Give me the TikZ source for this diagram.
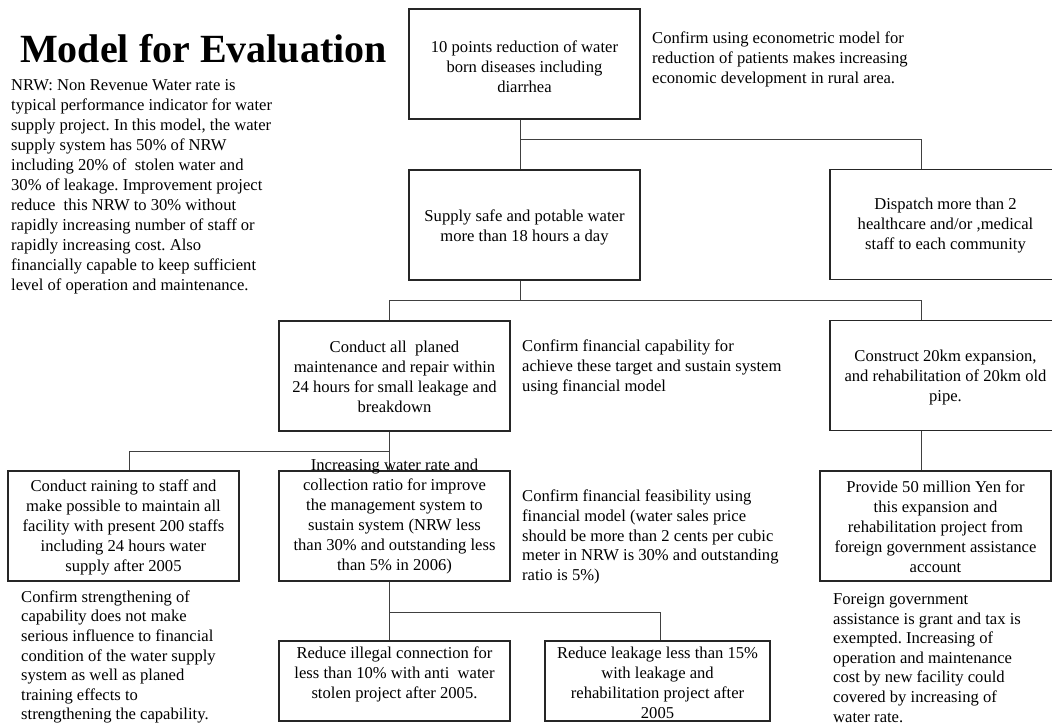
\documentclass[tikz,border=0pt]{standalone}
\usepackage{fontspec}
\setmainfont{Liberation Serif}
\frenchspacing
\begin{document}
\begin{tikzpicture}[x=1pt,y=-1pt,
  framebox/.style={draw=black!85, line width=1.1pt, minimum width=231pt, minimum height=110pt, inner sep=0pt},
  lowbox/.style={framebox, minimum height=80pt},
  wire/.style={draw=black!75, line width=0.9pt},
  boxtext/.style={font=\fontsize{16.6}{20}\selectfont, align=center, inner sep=0pt},
  remark/.style={font=\fontsize{16.6}{19.6}\selectfont, align=left, inner sep=0pt, anchor=west}]

\useasboundingbox (0,0) rectangle (1052,727);
\clip (0,0) rectangle (1052,727);

% ---- boxes ----
\node[framebox] (A) at (524.5,64) {};
\node[framebox] (B) at (524.5,225) {};
\node[framebox] (C) at (945.5,224.5) {};
\node[framebox] (D) at (394.5,376) {};
\node[framebox] (E) at (945.5,375.5) {};
\node[framebox] (G) at (123.5,526) {};
\node[framebox] (H) at (394.5,526) {};
\node[framebox] (F) at (935.5,526) {};
\node[lowbox] (I) at (394.5,681) {};
\node[lowbox, minimum width=225pt] (J) at (657.5,681) {};

% ---- connectors ----
\coordinate (j1) at (520,139);
\coordinate (k1) at (921,139);
\draw[wire] (A.south -| j1) -- (B.north -| j1);
\draw[wire] (j1) -- (k1) -- (C.north -| k1);

\coordinate (j2) at (520,300);
\coordinate (l2) at (389,300);
\coordinate (k2) at (921,300);
\draw[wire] (B.south -| j2) -- (j2);
\draw[wire] (D.north -| l2) -- (l2) -- (k2) -- (E.north -| k2);
\draw[wire] (E.south -| k2) -- (F.north -| k2);

\coordinate (j3) at (389,451);
\coordinate (l3) at (129,451);
\draw[wire] (D.south -| j3) -- (H.north -| j3);
\draw[wire] (j3) -- (l3) -- (G.north -| l3);

\coordinate (j4) at (389,612);
\coordinate (k4) at (660,612);
\draw[wire] (H.south -| j4) -- (I.north -| j4);
\draw[wire] (j4) -- (k4) -- (J.north -| k4);

% ---- box texts ----
\node[boxtext] (At) at (524.5,67) {10 points reduction of water\\born diseases including\\diarrhea};
\node[boxtext] (Bt) at (524.5,227) {Supply safe and potable water\\more than 18 hours a day};
\node[boxtext] (Ct) at (945.5,226) {Dispatch more than 2\\healthcare and/or ,medical\\staff to each community};
\node[boxtext] (Dt) at (394.5,377) {Conduct all~ planed\\maintenance and repair within\\24 hours for small leakage and\\breakdown};
\node[boxtext] (Et) at (945.5,378) {Construct 20km expansion,\\and rehabilitation of 20km old\\pipe.};
\node[boxtext] (Gt) at (123.5,527) {Conduct raining to staff and\\make possible to maintain all\\facility with present 200 staffs\\including 24 hours water\\supply after 2005};
\node[boxtext] (Ht) at (394.5,517) {Increasing water rate and\\collection ratio for improve\\the management system to\\sustain system (NRW less\\than 30\% and outstanding less\\than 5\% in 2006)};
\node[boxtext] (Ft) at (935.5,527) {Provide 50 million Yen for\\this expansion and\\rehabilitation project from\\foreign government assistance\\account};
\node[boxtext] (It) at (394.5,674) {Reduce illegal connection for\\less than 10\% with anti~ water\\stolen project after 2005.};
\node[boxtext] (Jt) at (657.5,683) {Reduce leakage less than 15\%\\with leakage and\\rehabilitation project after\\2005};

% ---- title and free notes ----
\node[font=\fontsize{40}{48}\selectfont\bfseries, anchor=base west, inner sep=0pt] (title) at (20,63) {Model for Evaluation};

\node[remark, font=\fontsize{16.6}{20}\selectfont] (nrw) at (11,187) {NRW: Non Revenue Water rate is\\typical performance indicator for water\\supply project. In this model, the water\\supply system has 50\% of NRW\\including 20\% of~ stolen water and\\30\% of leakage. Improvement project\\reduce~ this NRW to 30\% without\\rapidly increasing number of staff or\\rapidly increasing cost. Also\\financially capable to keep sufficient\\level of operation and maintenance.};

\node[remark, font=\fontsize{16.6}{20}\selectfont] (econ) at (652,59) {Confirm using econometric model for\\reduction of patients makes increasing\\economic development in rural area.};

\node[remark, font=\fontsize{16.6}{20}\selectfont] (fincap) at (522,367) {Confirm financial capability for\\achieve these target and sustain system\\using financial model};

\node[remark] (finfeas) at (522,537) {Confirm financial feasibility using\\financial model (water sales price\\should be more than 2 cents per cubic\\meter in NRW is 30\% and outstanding\\ratio is 5\%)};

\node[remark] (strength) at (21,657) {Confirm strengthening of\\capability does not make\\serious influence to financial\\condition of the water supply\\system as well as planed\\training effects to\\strengthening the capability.};

\node[remark] (foreign) at (833,658) {Foreign government\\assistance is grant and tax is\\exempted. Increasing of\\operation and maintenance\\cost by new facility could\\covered by increasing of\\water rate.};

\end{tikzpicture}
\end{document}
